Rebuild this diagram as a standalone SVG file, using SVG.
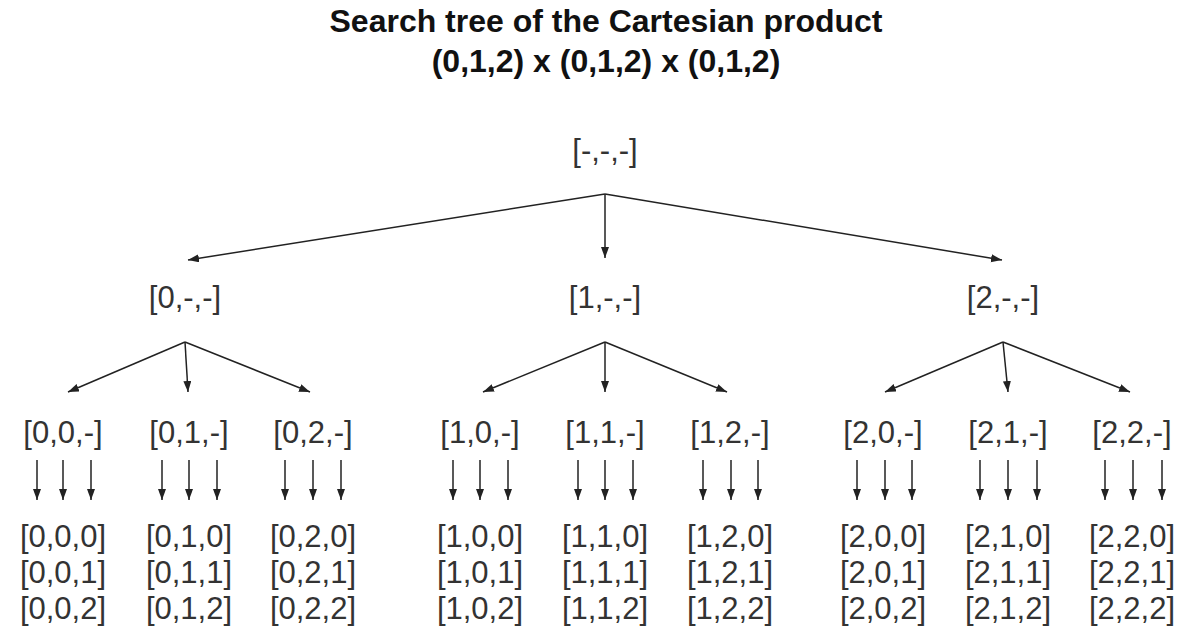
<svg xmlns="http://www.w3.org/2000/svg" width="1182" height="630" viewBox="0 0 1182 630">
<style>
.t{font-family:"Liberation Sans",Arial,sans-serif;font-size:32px;fill:#111;font-weight:bold;text-anchor:middle}
.n{font-family:"Liberation Sans",Arial,sans-serif;font-size:31px;fill:#333;text-anchor:middle}
.c line{stroke:#222;stroke-width:1.5;marker-end:url(#ah)}
</style>
<defs>
<marker id="ah" markerUnits="userSpaceOnUse" markerWidth="12" markerHeight="10" refX="11" refY="4" orient="auto">
<path d="M0,0 L11,4 L0,8 z" fill="#222"/>
</marker>
</defs>
<rect width="1182" height="630" fill="#fff"/>
<g id="title">
<text class="t" x="606" y="32">Search tree of the Cartesian product</text>
<text class="t" x="606" y="72">(0,1,2) x (0,1,2) x (0,1,2)</text>
</g>
<g class="c" id="connectors">
<line x1="605" y1="194" x2="188" y2="260"/>
<line x1="605" y1="194" x2="605" y2="258"/>
<line x1="605" y1="194" x2="1002" y2="260"/>
<line x1="185" y1="342" x2="68" y2="392"/>
<line x1="185" y1="342" x2="188" y2="392"/>
<line x1="185" y1="342" x2="310" y2="392"/>
<line x1="605" y1="342" x2="483" y2="392"/>
<line x1="605" y1="342" x2="605" y2="392"/>
<line x1="605" y1="342" x2="727" y2="392"/>
<line x1="1003" y1="342" x2="885" y2="392"/>
<line x1="1003" y1="342" x2="1008" y2="392"/>
<line x1="1003" y1="342" x2="1130" y2="392"/>
<line x1="37" y1="460" x2="37" y2="500"/><line x1="63" y1="460" x2="63" y2="500"/><line x1="91" y1="460" x2="91" y2="500"/>
<line x1="162" y1="460" x2="162" y2="500"/><line x1="189" y1="460" x2="189" y2="500"/><line x1="217" y1="460" x2="217" y2="500"/>
<line x1="285" y1="460" x2="285" y2="500"/><line x1="313" y1="460" x2="313" y2="500"/><line x1="341" y1="460" x2="341" y2="500"/>
<line x1="453" y1="460" x2="453" y2="500"/><line x1="480" y1="460" x2="480" y2="500"/><line x1="508" y1="460" x2="508" y2="500"/>
<line x1="578" y1="460" x2="578" y2="500"/><line x1="605" y1="460" x2="605" y2="500"/><line x1="633" y1="460" x2="633" y2="500"/>
<line x1="703" y1="460" x2="703" y2="500"/><line x1="731" y1="460" x2="731" y2="500"/><line x1="758" y1="460" x2="758" y2="500"/>
<line x1="857" y1="460" x2="857" y2="500"/><line x1="885" y1="460" x2="885" y2="500"/><line x1="912" y1="460" x2="912" y2="500"/>
<line x1="980" y1="460" x2="980" y2="500"/><line x1="1008" y1="460" x2="1008" y2="500"/><line x1="1037" y1="460" x2="1037" y2="500"/>
<line x1="1105" y1="460" x2="1105" y2="500"/><line x1="1133" y1="460" x2="1133" y2="500"/><line x1="1162" y1="460" x2="1162" y2="500"/>
</g>
<g id="root"><text class="n" x="605" y="161">[-,-,-]</text></g>
<g id="n0"><text class="n" x="185" y="308">[0,-,-]</text></g>
<g id="n1"><text class="n" x="605" y="308">[1,-,-]</text></g>
<g id="n2"><text class="n" x="1003" y="308">[2,-,-]</text></g>
<g id="n00"><text class="n" x="63" y="443">[0,0,-]</text></g>
<g id="n01"><text class="n" x="189" y="443">[0,1,-]</text></g>
<g id="n02"><text class="n" x="313" y="443">[0,2,-]</text></g>
<g id="n10"><text class="n" x="480" y="443">[1,0,-]</text></g>
<g id="n11"><text class="n" x="605" y="443">[1,1,-]</text></g>
<g id="n12"><text class="n" x="730" y="443">[1,2,-]</text></g>
<g id="n20"><text class="n" x="883" y="443">[2,0,-]</text></g>
<g id="n21"><text class="n" x="1008" y="443">[2,1,-]</text></g>
<g id="n22"><text class="n" x="1132" y="443">[2,2,-]</text></g>
<g id="l00"><text class="n" x="63" y="547">[0,0,0]</text><text class="n" x="63" y="583">[0,0,1]</text><text class="n" x="63" y="619">[0,0,2]</text></g>
<g id="l01"><text class="n" x="189" y="547">[0,1,0]</text><text class="n" x="189" y="583">[0,1,1]</text><text class="n" x="189" y="619">[0,1,2]</text></g>
<g id="l02"><text class="n" x="313" y="547">[0,2,0]</text><text class="n" x="313" y="583">[0,2,1]</text><text class="n" x="313" y="619">[0,2,2]</text></g>
<g id="l10"><text class="n" x="480" y="547">[1,0,0]</text><text class="n" x="480" y="583">[1,0,1]</text><text class="n" x="480" y="619">[1,0,2]</text></g>
<g id="l11"><text class="n" x="605" y="547">[1,1,0]</text><text class="n" x="605" y="583">[1,1,1]</text><text class="n" x="605" y="619">[1,1,2]</text></g>
<g id="l12"><text class="n" x="730" y="547">[1,2,0]</text><text class="n" x="730" y="583">[1,2,1]</text><text class="n" x="730" y="619">[1,2,2]</text></g>
<g id="l20"><text class="n" x="883" y="547">[2,0,0]</text><text class="n" x="883" y="583">[2,0,1]</text><text class="n" x="883" y="619">[2,0,2]</text></g>
<g id="l21"><text class="n" x="1008" y="547">[2,1,0]</text><text class="n" x="1008" y="583">[2,1,1]</text><text class="n" x="1008" y="619">[2,1,2]</text></g>
<g id="l22"><text class="n" x="1132" y="547">[2,2,0]</text><text class="n" x="1132" y="583">[2,2,1]</text><text class="n" x="1132" y="619">[2,2,2]</text></g>
</svg>
